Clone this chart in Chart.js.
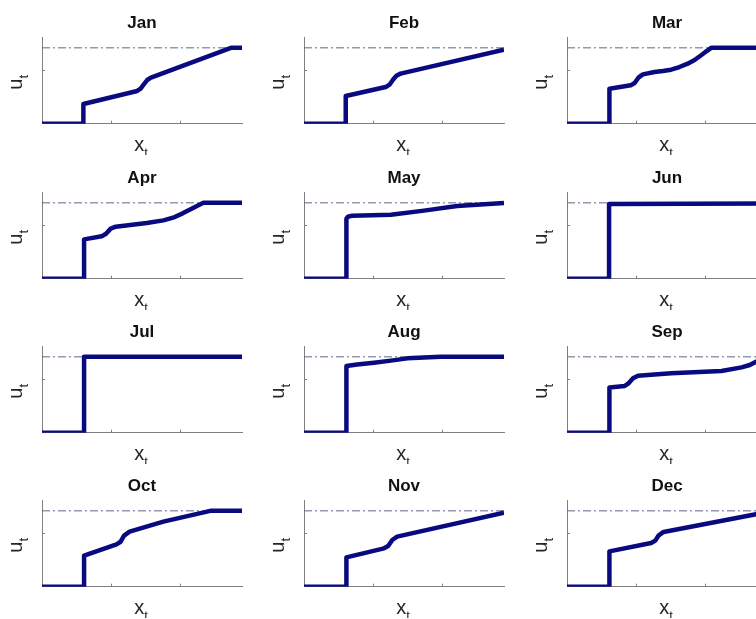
<!DOCTYPE html>
<html>
<head>
<meta charset="utf-8">
<script src="https://cdn.jsdelivr.net/npm/chart.js@4/dist/chart.umd.min.js"></script>
<style>
  html, body { margin: 0; padding: 0; background: #fff; }
  body { width: 756px; height: 619px; overflow: hidden; position: relative; }
  canvas { position: absolute; }
</style>
</head>
<body>
<script>
// --- datos (x_t, u_t) ---
const months = ['Jan', 'Feb', 'Mar', 'Apr', 'May', 'Jun', 'Jul', 'Aug', 'Sep', 'Oct', 'Nov', 'Dec'];

const uJan = [[0,0],[6.0,0],[6.0,1.82],[13.8,3.02],[14.3,3.23],[14.8,3.66],[15.25,4.03],[15.8,4.25],[27.4,7.0],[29,7.0]];
const uFeb = [[0,0],[6.05,0],[6.05,2.55],[11.84,3.38],[12.4,3.6],[12.9,4.06],[13.4,4.43],[14.0,4.62],[29,6.83]];
const uMar = [[0,0],[6.15,0],[6.15,3.23],[9.23,3.54],[9.81,3.75],[10.4,4.28],[11.0,4.55],[12.7,4.77],[13.9,4.86],[15.1,4.98],[16.3,5.23],[17.5,5.54],[18.5,5.88],[19.5,6.34],[20.2,6.68],[20.9,7.0],[29,7.0]];
const uApr = [[0,0],[6.1,0],[6.1,3.63],[8.65,3.91],[9.28,4.15],[9.96,4.62],[10.7,4.8],[12.8,4.95],[15.2,5.14],[17.6,5.38],[19.0,5.63],[20.4,6.03],[21.9,6.52],[23.4,7.0],[29,7.0]];
const uMay = [[0,0],[6.15,0],[6.15,5.54],[6.38,5.72],[7.0,5.82],[12.6,5.9],[17.4,6.28],[22.2,6.7],[29,6.98]];
const uJun = [[0,0],[6.1,0],[6.1,6.9],[29,6.95]];
const uJul = [[0,0],[6.1,0],[6.1,7.0],[29,7.0]];
const uAug = [[0,0],[6.15,0],[6.15,6.15],[7.7,6.3],[10.15,6.46],[12.6,6.65],[15.0,6.86],[17.4,6.95],[19.8,7.0],[29,7.0]];
const uSep = [[0,0],[6.15,0],[6.15,4.18],[8.36,4.31],[8.9,4.55],[9.57,5.02],[10.3,5.26],[15.1,5.48],[22.4,5.69],[25.3,6.03],[26.5,6.25],[27.4,6.55],[29,7.0]];
const uOct = [[0,0],[6.1,0],[6.1,2.86],[10.8,3.91],[11.4,4.15],[11.9,4.71],[12.7,5.08],[17.6,6.0],[24.4,7.0],[29,7.0]];
const uNov = [[0,0],[6.15,0],[6.15,2.71],[11.6,3.54],[12.2,3.75],[12.8,4.31],[13.5,4.62],[29,6.83]];
const uDec = [[0,0],[6.15,0],[6.15,3.26],[12.2,4.03],[12.8,4.25],[13.3,4.74],[14.0,5.05],[27.4,6.68],[29,6.87]];

const series = [uJan, uFeb, uMar, uApr, uMay, uJun, uJul, uAug, uSep, uOct, uNov, uDec];

const uMax = [7, 7, 7, 7, 7, 7, 7, 7, 7, 7, 7, 7]; // línea punto-raya superior
const xRange = [0, 29];
const yRange = [0, 8];
const xTicks = [10, 20];
const yTicks = [5];

// --- layout ---
const colLeft = [42, 304, 567];
const rowTop = [37, 191.5, 345.8, 500];
const AREA_W = 200, AREA_H = 86.7;
const CANVAS_W = 263, CANVAS_H = 155;

const AXIS_COLOR = '#808080';
const LINE_COLOR = '#0a0a80';
const TEXT_COLOR = '#262626';
const FONT = '"Liberation Sans", Arial, sans-serif';

// dibuja títulos, etiquetas con subíndice y ticks hacia dentro
const panelDecor = {
    id: 'panelDecor',
    beforeDatasetsDraw(chart) {
        const { ctx, chartArea, scales } = chart;
        ctx.save();
        ctx.strokeStyle = AXIS_COLOR;
        ctx.lineWidth = 1;
        ctx.beginPath();
        scales.x.ticks.forEach(t => {
            const px = Math.round(scales.x.getPixelForValue(t.value)) + 0.5;
            ctx.moveTo(px, chartArea.bottom);
            ctx.lineTo(px, chartArea.bottom - 3);
        });
        scales.y.ticks.forEach(t => {
            const py = Math.round(scales.y.getPixelForValue(t.value)) + 0.5;
            ctx.moveTo(chartArea.left, py);
            ctx.lineTo(chartArea.left + 3, py);
        });
        ctx.stroke();
        ctx.restore();
    },
    afterDraw(chart) {
        const { ctx, chartArea } = chart;
        const cx = (chartArea.left + chartArea.right) / 2;
        ctx.save();
        ctx.fillStyle = TEXT_COLOR;
        ctx.textBaseline = 'alphabetic';

        // título
        ctx.font = 'bold 17px ' + FONT;
        ctx.textAlign = 'center';
        ctx.fillStyle = '#111';
        ctx.fillText(chart.options.plugins.panelDecor.title, cx, chartArea.top - 9);
        ctx.fillStyle = TEXT_COLOR;

        // x_t
        ctx.font = '20px ' + FONT;
        const wx = ctx.measureText('x').width;
        ctx.font = '13px ' + FONT;
        const wt = ctx.measureText('t').width;
        const x0 = cx - 1 - (wx + wt) / 2;
        ctx.textAlign = 'left';
        ctx.font = '20px ' + FONT;
        ctx.fillText('x', x0, chartArea.bottom + 27);
        ctx.font = '13px ' + FONT;
        ctx.fillText('t', x0 + wx, chartArea.bottom + 33.5);

        // u_t (rotado)
        ctx.translate(chartArea.left - 20, (chartArea.top + chartArea.bottom) / 2 + 2);
        ctx.rotate(-Math.PI / 2);
        ctx.font = '20px ' + FONT;
        const wu = ctx.measureText('u').width;
        const u0 = -(wu + wt) / 2;
        ctx.fillText('u', u0, 0);
        ctx.font = '13px ' + FONT;
        ctx.fillText('t', u0 + wu, 6);
        ctx.restore();
    }
};

months.forEach((month, i) => {
    const col = i % 3;
    const row = Math.floor(i / 3);
    const canvas = document.createElement('canvas');
    canvas.width = CANVAS_W;
    canvas.height = CANVAS_H;
    canvas.style.left = (colLeft[col] - 42) + 'px';
    canvas.style.top = (rowTop[row] - 37) + 'px';
    canvas.style.width = CANVAS_W + 'px';
    canvas.style.height = CANVAS_H + 'px';
    document.body.appendChild(canvas);

    const pts = series[i].map(([x, y]) => ({ x, y }));
    const capLine = [{ x: xRange[0], y: uMax[i] }, { x: xRange[1], y: uMax[i] }];

    new Chart(canvas.getContext('2d'), {
        type: 'line',
        data: {
            datasets: [
                { data: pts, borderColor: LINE_COLOR, borderWidth: 4.5, pointRadius: 0, tension: 0, borderJoinStyle: 'round', fill: false, order: 0 },
                { data: capLine, borderColor: '#5a6c86', borderWidth: 1, borderDash: [8, 3, 2, 3], pointRadius: 0, tension: 0, fill: false, order: 1 }
            ]
        },
        options: {
            responsive: false,
            animation: false,
            devicePixelRatio: 1,
            layout: { padding: { left: 42, top: 37, right: CANVAS_W - 42 - AREA_W, bottom: CANVAS_H - 37 - AREA_H } },
            plugins: {
                legend: { display: false },
                tooltip: { enabled: false },
                panelDecor: { title: month }
            },
            scales: {
                x: {
                    type: 'linear', min: xRange[0], max: xRange[1],
                    ticks: { display: false },
                    grid: { display: false, drawTicks: false },
                    border: { display: true, color: AXIS_COLOR, width: 1 },
                    afterBuildTicks: scale => { scale.ticks = xTicks.map(v => ({ value: v })); }
                },
                y: {
                    type: 'linear', min: yRange[0], max: yRange[1],
                    ticks: { display: false },
                    grid: { display: false, drawTicks: false },
                    border: { display: true, color: AXIS_COLOR, width: 1 },
                    afterBuildTicks: scale => { scale.ticks = yTicks.map(v => ({ value: v })); }
                }
            }
        },
        plugins: [panelDecor]
    });
});
</script>
</body>
</html>
